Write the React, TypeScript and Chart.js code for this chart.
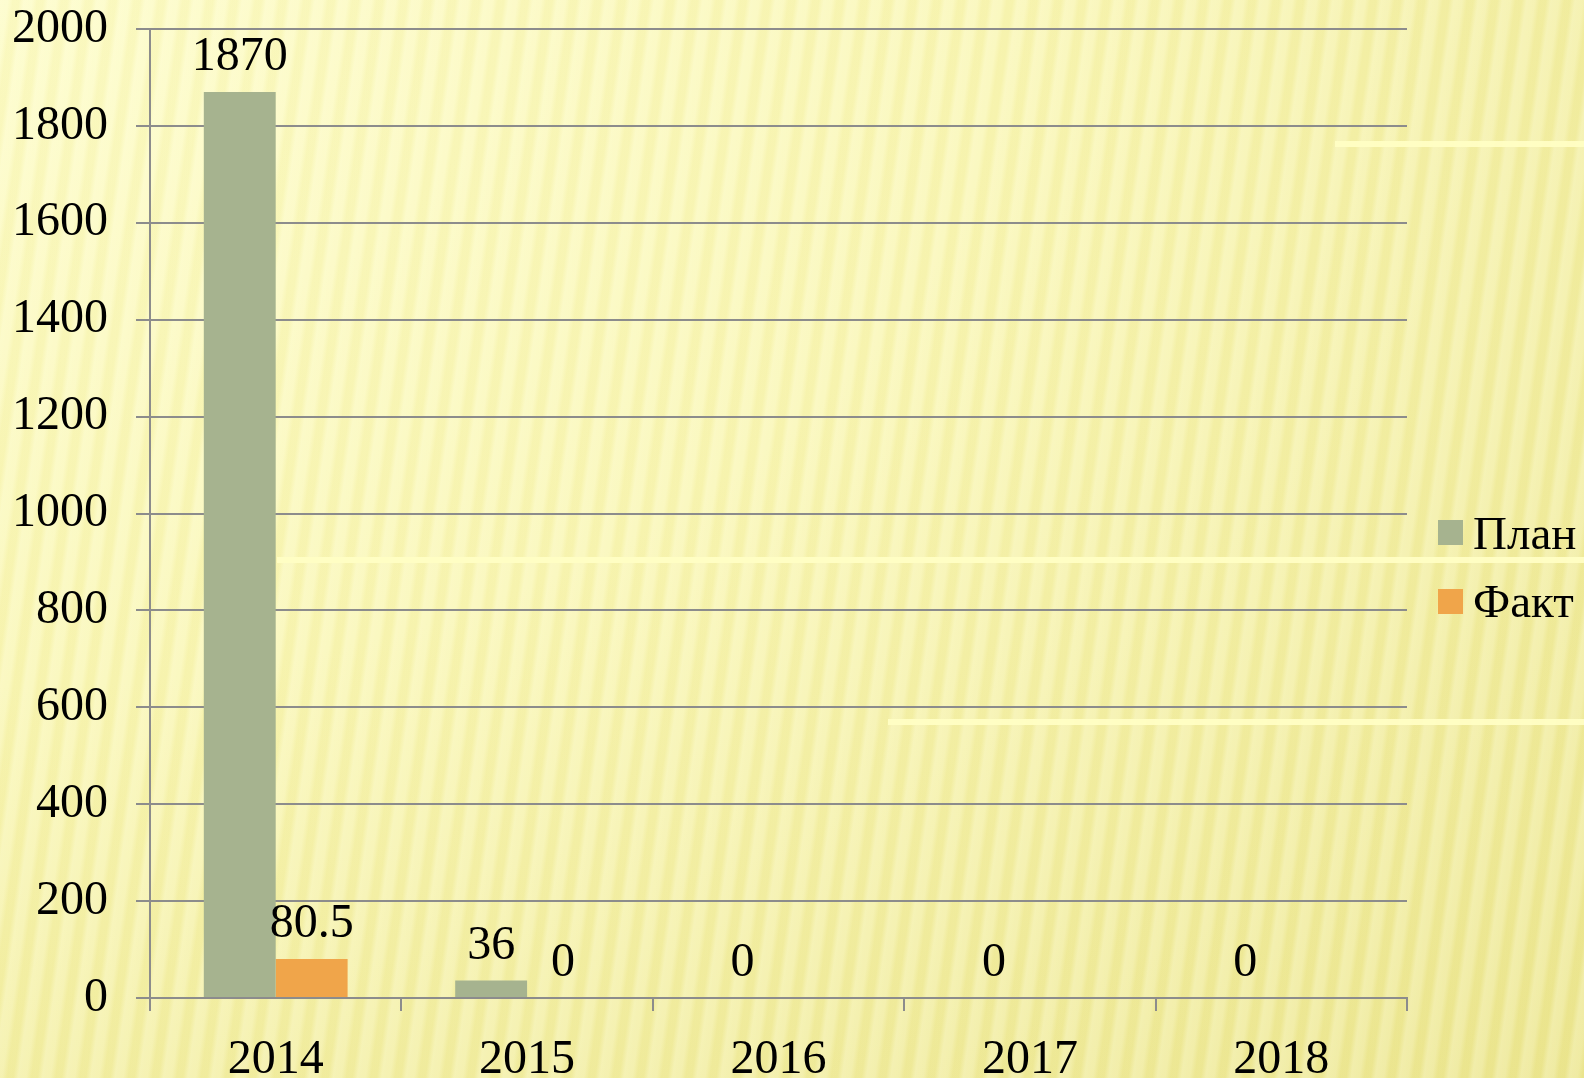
import React, { useEffect, useRef } from "react";
import { Chart, registerables } from "chart.js";

Chart.register(...registerables);

const categories = ["2014", "2015", "2016", "2017", "2018"];
const planValues: (number | null)[] = [1870, 36, 0, 0, 0];
const factValues: (number | null)[] = [80.5, 0, null, null, null];
const seriesNames = ["План", "Факт"];
const seriesColors = ["#a6b38f", "#f0a54a"];
const yTicks = { min: 0, max: 2000, step: 200 };

const FONT = "'Liberation Serif', 'Times New Roman', serif";

const labelsPlugin = {
  id: "customLabels",
  afterDatasetsDraw(chart: any) {
    const ctx = chart.ctx;
    ctx.save();
    ctx.font = `48px ${FONT}`;
    ctx.fillStyle = "#000";
    ctx.textAlign = "center";
    ctx.textBaseline = "alphabetic";
    chart.data.datasets.forEach((ds: any, di: number) => {
      const meta = chart.getDatasetMeta(di);
      meta.data.forEach((bar: any, i: number) => {
        const v = ds.data[i];
        if (v === null || v === undefined) return;
        ctx.fillText(String(v), bar.x, bar.y - 22);
      });
    });
    // legend
    ctx.font = `47px ${FONT}`;
    const legendY = [532.5, 601.5];
    const baseY = [549, 617];
    chart.data.datasets.forEach((ds: any, di: number) => {
      ctx.fillStyle = ds.backgroundColor;
      ctx.fillRect(1438, legendY[di] - 12.5, 25, 25);
      ctx.fillStyle = "#000";
      ctx.textAlign = "left";
      ctx.fillText(ds.label, 1473, baseY[di]);
    });
    ctx.restore();
  },
};

export default function App() {
  const ref = useRef<HTMLCanvasElement | null>(null);
  useEffect(() => {
    if (!ref.current) return;
    const chart = new Chart(ref.current, {
      type: "bar",
      data: {
        labels: categories,
        datasets: [
          { label: seriesNames[0], data: planValues, backgroundColor: seriesColors[0] },
          { label: seriesNames[1], data: factValues, backgroundColor: seriesColors[1] },
        ],
      },
      options: {
        animation: false,
        responsive: false,
        maintainAspectRatio: false,
        datasets: { bar: { barPercentage: 1, categoryPercentage: 0.572 } },
        layout: { padding: { top: 29, right: 177, left: 0, bottom: 0 } },
        plugins: { legend: { display: false }, tooltip: { enabled: false } },
        scales: {
          x: {
            grid: {
              offset: true,
              drawOnChartArea: false,
              drawTicks: true,
              tickLength: 13,
              color: "#8c8c8c",
              lineWidth: 2,
            },
            border: { color: "#8c8c8c", width: 2 },
            ticks: { font: { family: FONT, size: 48 }, color: "#000", padding: 21, maxRotation: 0 },
            afterFit(scale: any) {
              scale.height = 80;
              scale.paddingLeft = 0;
              scale.paddingRight = 0;
            },
          },
          y: {
            min: yTicks.min,
            max: yTicks.max,
            grid: { color: "#8c8c8c", lineWidth: 2, tickLength: 14 },
            border: { color: "#8c8c8c", width: 2 },
            ticks: {
              stepSize: yTicks.step,
              font: { family: FONT, size: 48 },
              color: "#000",
              padding: 28,
              callback: (v: any) => String(v),
            },
            afterFit(scale: any) {
              scale.width = 150;
              scale.paddingTop = 0;
              scale.paddingBottom = 0;
            },
          },
        },
      },
      plugins: [labelsPlugin],
    } as any);
    return () => chart.destroy();
  }, []);

  const bg = [
    "repeating-linear-gradient(98deg, rgba(255,255,235,0.28) 0px, rgba(255,255,235,0.22) 8px, rgba(225,218,120,0.10) 13px, rgba(225,218,120,0.10) 19px, rgba(255,255,235,0.28) 24px)",
    "radial-gradient(ellipse at 0% 0%, #fdfcc8 0%, #f9f6b4 45%, #ebe58e 100%)",
  ].join(",");

  const lineStyle = (top: number, left: number): React.CSSProperties => ({
    position: "absolute",
    top,
    left,
    right: 0,
    height: 6,
    background: "rgba(255,254,196,0.95)",
  });

  return (
    <div
      style={{
        position: "fixed",
        top: 0,
        left: 0,
        width: 1584,
        height: 1078,
        overflow: "hidden",
        background: bg,
      }}
    >
      <div style={lineStyle(141, 1335)} />
      <div style={lineStyle(557, 277)} />
      <div style={lineStyle(719, 888)} />
      <canvas ref={ref} width={1584} height={1078} style={{ position: "absolute", top: 0, left: 0 }} />
    </div>
  );
}
